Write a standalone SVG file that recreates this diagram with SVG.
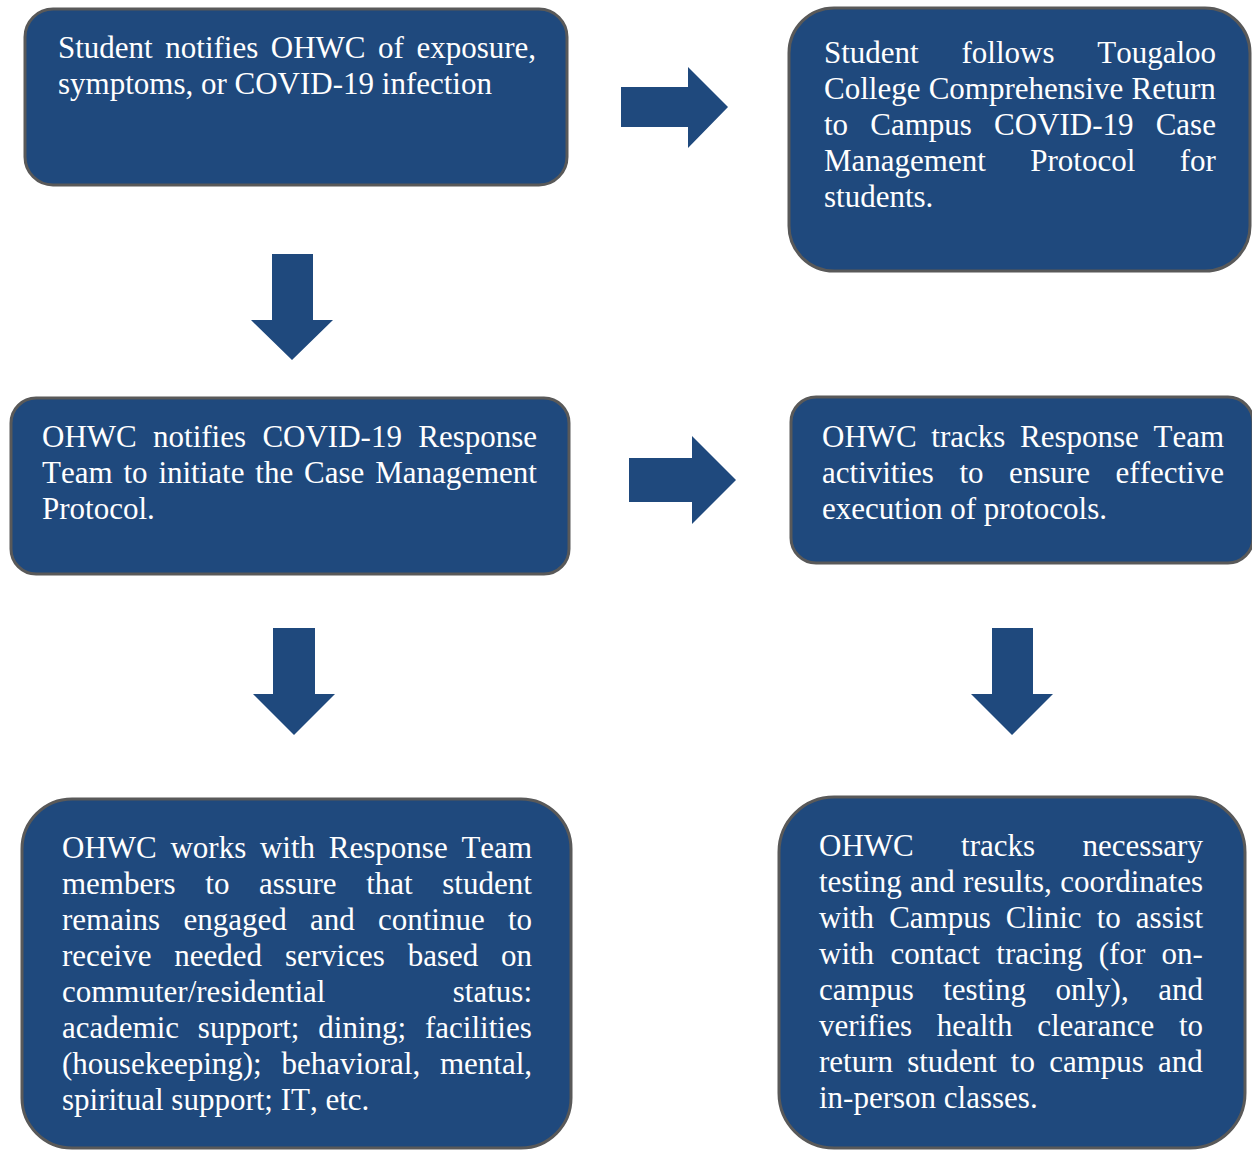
<svg xmlns="http://www.w3.org/2000/svg" width="1252" height="1150" viewBox="0 0 1252 1150">
<style>
.box{fill:#1f497d;stroke:#595959;stroke-width:3}
.arr{fill:#1f497d}
text{font-family:"Liberation Serif","Times New Roman",serif;font-size:31px;fill:#ffffff;font-kerning:none;font-variant-ligatures:none}
</style>
<rect width="1252" height="1150" fill="#ffffff"/>
<g id="connectors">
<polygon class="arr" points="621,87 688,87 688,67 728,107 688,148 688,127 621,127"/>
<polygon class="arr" points="272,254 313,254 313,320 333,320 292,360 251,320 272,320"/>
<polygon class="arr" points="629,458 692,458 692,436 736,480 692,524 692,502 629,502"/>
<polygon class="arr" points="273,628 315,628 315,694 335,694 294,735 253,694 273,694"/>
<polygon class="arr" points="992,628 1033,628 1033,694 1053,694 1012,735 971,694 992,694"/>
</g>
<g id="node1">
<rect class="box" x="25" y="9" width="542" height="176" rx="28"/>
<text x="58" y="58" word-spacing="4.8">Student notifies OHWC of exposure,</text>
<text x="58" y="94">symptoms, or COVID-19 infection</text>
</g>
<g id="node2">
<rect class="box" x="789" y="8" width="461" height="263" rx="45"/>
<text x="824" y="63" word-spacing="35">Student follows Tougaloo</text>
<text x="824" y="99" word-spacing="0.5">College Comprehensive Return</text>
<text x="824" y="135" word-spacing="14.4">to Campus COVID-19 Case</text>
<text x="824" y="171" word-spacing="36.7">Management Protocol for</text>
<text x="824" y="207">students.</text>
</g>
<g id="node3">
<rect class="box" x="11" y="398" width="558" height="176" rx="25"/>
<text x="42" y="447" word-spacing="8.6">OHWC notifies COVID-19 Response</text>
<text x="42" y="483" word-spacing="3.1">Team to initiate the Case Management</text>
<text x="42" y="519">Protocol.</text>
</g>
<g id="node4">
<rect class="box" x="791" y="397" width="462" height="166" rx="25"/>
<text x="822" y="447" word-spacing="6.9">OHWC tracks Response Team</text>
<text x="822" y="483" word-spacing="17.8">activities to ensure effective</text>
<text x="822" y="519">execution of protocols.</text>
</g>
<g id="node5">
<rect class="box" x="22" y="799" width="549" height="349" rx="50"/>
<text x="62" y="858" word-spacing="6">OHWC works with Response Team</text>
<text x="62" y="894" word-spacing="21.9">members to assure that student</text>
<text x="62" y="930" word-spacing="15.5">remains engaged and continue to</text>
<text x="62" y="966" word-spacing="15.1">receive needed services based on</text>
<text x="62" y="1002">commuter/residential</text>
<text x="532" y="1002" text-anchor="end">status:</text>
<text x="62" y="1038" word-spacing="11.1">academic support; dining; facilities</text>
<text x="62" y="1074" word-spacing="12.1">(housekeeping); behavioral, mental,</text>
<text x="62" y="1110">spiritual support; IT, etc.</text>
</g>
<g id="node6">
<rect class="box" x="779" y="797" width="466" height="351" rx="55"/>
<text x="819" y="856" word-spacing="39.6">OHWC tracks necessary</text>
<text x="819" y="892" word-spacing="0.6">testing and results, coordinates</text>
<text x="819" y="928" word-spacing="7.3">with Campus Clinic to assist</text>
<text x="819" y="964" word-spacing="8.6">with contact tracing (for on-</text>
<text x="819" y="1000" word-spacing="21.8">campus testing only), and</text>
<text x="819" y="1036" word-spacing="17">verifies health clearance to</text>
<text x="819" y="1072" word-spacing="6.4">return student to campus and</text>
<text x="819" y="1108">in-person classes.</text>
</g>
</svg>
